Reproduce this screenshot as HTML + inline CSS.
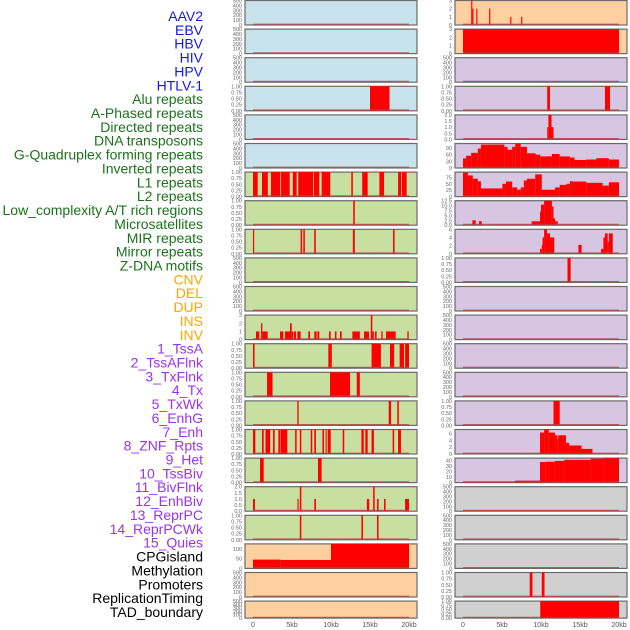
<!DOCTYPE html>
<html><head><meta charset="utf-8"><style>
html,body{margin:0;padding:0;background:#fff;}
svg{display:block;font-family:"Liberation Sans",sans-serif;}
</style></head><body>
<svg id="chart" width="630" height="630" viewBox="0 0 630 630" xmlns="http://www.w3.org/2000/svg"></svg>
<script>
// ---- data ----
const trackLabels = ["AAV2","EBV","HBV","HIV","HPV","HTLV-1","Alu repeats","A-Phased repeats","Directed repeats","DNA transposons","G-Quadruplex forming repeats","Inverted repeats","L1 repeats","L2 repeats","Low_complexity A/T rich regions","Microsatellites","MIR repeats","Mirror repeats","Z-DNA motifs","CNV","DEL","DUP","INS","INV","1_TssA","2_TssAFlnk","3_TxFlnk","4_Tx","5_TxWk","6_EnhG","7_Enh","8_ZNF_Rpts","9_Het","10_TssBiv","11_BivFlnk","12_EnhBiv","13_ReprPC","14_ReprPCWk","15_Quies","CPGisland","Methylation","Promoters","ReplicationTiming","TAD_boundary"];
const labelGroups = ["v","v","v","v","v","v","r","r","r","r","r","r","r","r","r","r","r","r","r","s","s","s","s","s","c","c","c","c","c","c","c","c","c","c","c","c","c","c","c","o","o","o","o","o"];
const xTickKb = [0,5,10,15,20];
const xTickLabels = ["0","5kb","10kb","15kb","20kb"];
const T500=[0,100,200,300,400,500], T1=[0,0.25,0.5,0.75,1];
const leftBg = ["b","b","b","b","b","b","g","g","g","g","g","g","g","g","g","g","g","g","g","o","o","o"];
const rightBg = ["o","o","p","p","p","p","p","p","p","p","p","p","p","p","p","p","p","y","y","y","y","y"];
const leftTicks = [T500,T500,T500,T1,T500,T500,T1,T1,T1,T500,T500,[0,1,2,3],T1,T1,T1,T1,T1,[0,0.5,1,1.5,2],T1,[0,50,100],T500,T500];
const leftYmax = [500,500,500,1,500,500,1,1,1,500,500,3,1,1,1,1,1,2,1,125,500,500];
const leftSegs = [
 [],[],[],
 [[15,17.5,1]],
 [],[],
 [[0,0.6,1],[1.15,1.9,1],[2.3,3.5,1],[3.6,4.7,1],[5.1,5.6,1],[5.8,7.7,1],[7.8,8.5,1],[8.8,9.9,1],[12.6,12.8,1],[14,14.7,1],[16.2,16.8,1],[18.6,19,1],[19.1,19.7,1]],
 [[12.85,13.05,1]],
 [[0,0.15,1],[6.1,6.3,1],[6.45,6.65,1],[7.85,8.05,1],[12.8,13.05,1],[17.95,18.15,1]],
 [],[],
 [[0.38,0.81,1],[1.03,1.2,2],[1.2,1.88,1],[3.46,3.89,1],[4.1,4.74,1],[4.74,4.96,2],[4.96,5.17,1],[5.26,5.51,1],[5.68,6.11,1],[7.09,7.31,1],[7.86,8.16,1],[8.25,8.5,1],[9.74,9.96,1],[10.5,10.7,1],[11.15,11.37,1],[12.74,13.7,1],[14.23,14.87,1],[15.1,15.3,3],[15.3,15.5,1],[15.64,15.85,1],[16.45,16.62,1],[17.05,18.29,1],[19.79,19.96,1]],
 [[0,0.2,1],[9.66,10.1,1],[15.2,16.4,1],[17.56,18.1,1],[18.8,19.36,1],[19.5,20,1]],
 [[1.8,2.5,1],[9.87,12.44,1],[13.3,13.7,1]],
 [[5.68,5.85,1],[17.4,17.7,1],[18.5,18.7,1]],
 [[0,0.3,1],[1.15,1.37,1],[1.6,2.2,1],[2.56,2.78,1],[3.25,3.5,1],[3.55,4.4,1],[5.4,5.6,1],[6,6.2,1],[7.4,7.6,1],[7.86,8.07,1],[8.9,9.1,1],[9.3,9.44,1],[9.57,9.96,1],[11.5,11.7,1],[13.9,14.2,1],[14.4,14.7,1],[15.2,15.5,1],[17.9,18.1,1],[18.6,18.97,1]],
 [[0.9,1.37,1],[8.33,8.8,1]],
 [[0,0.25,1],[5.7,5.85,1],[6,6.2,2],[7.86,8.07,1],[14.6,14.9,1],[15.4,15.6,2],[15.9,16.1,1],[16.8,17,1],[19.5,20,1]],
 [[6,6.2,1],[13.9,14.1,1],[15.9,16.1,1]],
 [[0,3.5,45],[3.5,10,43],[10,20,125]],
 [],[]
];
const rightTicks = [[0,1,2,3],[0,1,2,3],T500,T1,[0,0.5,1,1.5,2],[0,30,60,90],[0,25,50,75],[0,2.5,5,7.5,10,12.5],[0,2,4,6],T1,T500,T500,T500,T500,T1,[0,2,4,6],[0,10,20,30,40],T500,T500,T500,T1,T1];
const rightYmax = [3,3,500,1,2,110,96,12.5,6,1,500,500,500,500,1,7.2,44,500,500,500,1,1];
const rightSegs = [
 [[1.05,1.2,3],[1.2,1.35,2],[1.7,1.85,2],[3.35,3.5,2],[6.05,6.2,1],[7.45,7.6,1]],
 [[0,20,3]],
 [],
 [[10.8,11.15,1],[18.2,18.85,1]],
 [[10.8,10.95,1],[10.95,11.35,2],[11.35,11.6,1]],
 [[0,0.4,43],[0.4,1.05,55],[1.05,1.9,68],[1.9,2.3,87],[2.3,5.3,105],[5.3,5.7,95],[5.7,6.3,82],[6.3,6.7,95],[6.7,7.4,110],[7.4,8.2,95],[8.2,9.3,66],[9.3,9.9,60],[9.9,11.4,52],[11.4,12.4,63],[12.4,13.7,52],[13.7,14.3,47],[14.3,15.8,36],[15.8,17.1,38],[17.1,18.7,44],[18.7,20,38]],
 [[0,0.63,94],[0.63,1.26,83],[1.26,1.9,70],[1.9,2.3,60],[2.3,5.05,32],[5.05,5.5,50],[5.5,6.3,59],[6.3,6.95,36],[6.95,7.4,27],[7.4,7.8,36],[7.8,8.2,63],[8.2,9.26,70],[9.26,10.1,87],[10.1,11.8,27],[11.8,12.4,36],[12.4,13.26,46],[13.26,13.7,50],[13.7,14.1,60],[14.1,15.8,59],[15.8,17.9,54],[17.9,18.7,43],[18.7,20,56]],
 [[1.2,1.63,2.5],[2.05,2.4,2],[8.8,9.87,2],[9.87,10,7],[10,10.4,10.5],[10.4,11.4,12.5],[11.4,11.6,9.5],[11.6,11.8,3.5],[11.8,12.15,2]],
 [[9.87,10.1,1.2],[10.1,10.2,2.2],[10.2,10.4,4],[10.4,10.77,6],[10.77,11.15,5],[11.15,11.7,4],[14.8,15.2,2.2],[17.7,18,1.2],[18,18.2,4],[18.2,18.55,5],[18.55,18.7,3],[18.7,19.2,5]],
 [[13.4,13.8,1]],
 [],[],[],[],
 [[11.6,12.4,1]],
 [[9.87,10.4,6.3],[10.4,11,7.2],[11,11.8,6.3],[11.8,12.1,5.5],[12.1,12.2,4.5],[12.2,13.2,5.5],[13.2,13.6,3.3],[13.6,15.2,2.5],[15.2,16.6,1.5]],
 [[0,6.67,1.5],[6.67,9.87,3.5],[9.87,10.6,37],[10.6,11.8,37.5],[11.8,13,39],[13,16.4,41],[16.4,18,43],[18,20,45]],
 [],[],[],
 [[8.55,8.9,1],[10.1,10.45,1]],
 [[9.9,20,1]]
];
// ---- drawing ----
const NS="http://www.w3.org/2000/svg";
const svg=document.getElementById('chart');
function mk(tag,attrs,parent){const e=document.createElementNS(NS,tag);for(const k in attrs)e.setAttribute(k,attrs[k]);(parent||svg).appendChild(e);return e;}
const bgColors={b:"#c9e3ec",g:"#c7e0a2",o:"#ffd09f",p:"#d6c6e2",y:"#d0d0d0"};
const labelColors={v:"#1515ee",r:"#1c721c",s:"#ffa500",c:"#9933ee",o:"#000"};
function rowTop(i){return i*28.6+0.5;}
function rowH(i){return i===21?17:24.5;}
function drawCol(x0,kb0px,segsArr,ticksArr,ymaxArr,bgArr,side){
  const xScale=kb=>kb0px+kb*7.8;
  for(let i=0;i<22;i++){
    const top=rowTop(i),h=rowH(i);
    const g=mk('g',{});
    
    
    mk('rect',{x:x0,y:top,width:172,height:h,fill:bgColors[bgArr[i]],stroke:"#6a6a6a","stroke-width":1.2},g);
    const yScale=v=>top+h-(v/ymaxArr[i])*h;
    segsArr[i].forEach((s,j)=>{
      const y=yScale(Math.min(s[2],ymaxArr[i]));
      const r=mk('rect',{x:xScale(s[0]),y:y,width:Math.max(0.9,xScale(s[1])-xScale(s[0])),height:top+h-y,fill:"#ff0000"},g);
      
      
    });
    mk('line',{x1:xScale(0),x2:xScale(20),y1:top+h-0.8,y2:top+h-0.8,stroke:"#b34040","stroke-width":1.2,opacity:0.8},g);
    ticksArr[i].forEach(t=>{
      const y=top+h-(t/ymaxArr[i])*h;
      const txt=mk('text',{x:x0-3,y:y+2,"text-anchor":"end","font-size":5.5,fill:"#666"},g);
      txt.textContent=(ticksArr[i]===T1)?t.toFixed(2):(ticksArr[i].some(v=>v%1!==0)?t.toFixed(1):String(t));
    });
  }
  xTickKb.forEach((k,j)=>{
    const t=mk('text',{x:xScale(k),y:627,"text-anchor":"middle","font-size":7,fill:"#555"});
    t.textContent=xTickLabels[j];
    
    
  });
}
drawCol(245,253,leftSegs,leftTicks,leftYmax,leftBg,'left');
drawCol(455,463,rightSegs,rightTicks,rightYmax,rightBg,'right');
trackLabels.forEach((l,i)=>{
  const t=mk('text',{x:203,y:21+i*13.86,"text-anchor":"end","font-size":14,fill:labelColors[labelGroups[i]]});
  t.textContent=l;
  
  
});
</script>
</body></html>
